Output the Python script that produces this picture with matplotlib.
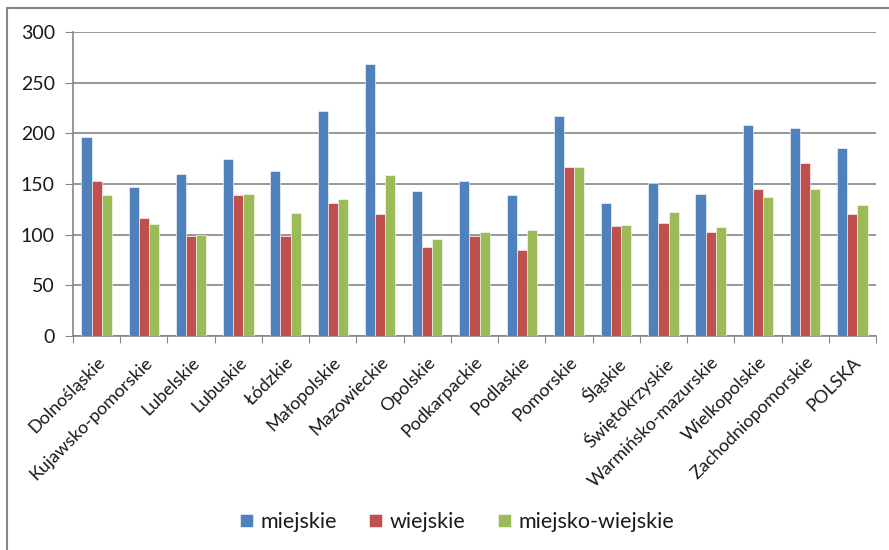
import numpy as np
import matplotlib.pyplot as plt
from matplotlib.patches import Rectangle

plt.rcParams['font.family'] = ['Lato', 'DejaVu Sans']

# Województwa
regions = ['Dolnośląskie', 'Kujawsko-pomorskie', 'Lubelskie', 'Lubuskie', 'Łódzkie',
           'Małopolskie', 'Mazowieckie', 'Opolskie', 'Podkarpackie', 'Podlaskie',
           'Pomorskie', 'Śląskie', 'Świętokrzyskie', 'Warmińsko-mazurskie',
           'Wielkopolskie', 'Zachodniopomorskie', 'POLSKA']

miejskie = [196.5, 147, 160, 174.5, 162.5, 222.5, 268, 143, 153, 139.5,
            217, 131.5, 150.5, 140.5, 208, 205, 186]
wiejskie = [152.5, 116.5, 99, 139, 98.5, 131, 120.5, 88, 98.5, 84.5,
            166.5, 109, 112, 102.5, 145, 170.5, 120.5]
miejsko_wiejskie = [139, 111, 99.5, 140.5, 121.5, 135.5, 158.5, 95.5, 102.5, 105,
                    167, 110, 122.5, 108, 137, 145.5, 129]

series = [('miejskie', miejskie, '#4F81BD'),
          ('wiejskie', wiejskie, '#C0504D'),
          ('miejsko-wiejskie', miejsko_wiejskie, '#9BBB59')]

fig = plt.figure(figsize=(8.89, 5.50), dpi=100)
ax = fig.add_axes([73 / 889, 1 - 336 / 550, (876 - 73) / 889, (336 - 32) / 550])

x = np.arange(len(regions))
w = 0.215
for i, (name, vals, col) in enumerate(series):
    ax.bar(x + (i - 1) * w, vals, width=w, color=col, label=name,
           edgecolor='white', linewidth=0.4, zorder=3)

ax.set_xlim(-0.5, len(regions) - 0.5)
ax.set_ylim(0, 300)
ax.set_yticks(range(0, 301, 50))
ax.yaxis.grid(True, color='#868686', linewidth=1.2, zorder=0)
ax.tick_params(axis='y', length=6, color='#868686', labelsize=14, pad=7,
               labelcolor='#1a1a1a')

# category boundary ticks below the axis
ax.set_xticks(np.arange(-0.5, len(regions), 1))
ax.set_xticklabels([])
ax.tick_params(axis='x', length=5, color='#868686')
for xi, lab in zip(x, regions):
    ax.annotate(lab, xy=(xi, 0), xycoords=('data', 'axes fraction'),
                xytext=(0, -13), textcoords='offset points',
                rotation=45, ha='right', va='top', rotation_mode='anchor',
                fontsize=13, color='#1a1a1a')

for s in ['top', 'right']:
    ax.spines[s].set_visible(False)
for s in ['left', 'bottom']:
    ax.spines[s].set_color('#868686')
    ax.spines[s].set_linewidth(1.2)

fig.legend(loc='center', bbox_to_anchor=(457 / 889, 1 - 522 / 550), ncol=3,
           frameon=False, fontsize=15.5, handlelength=0.6, handleheight=0.6,
           handletextpad=0.35, columnspacing=1.5, labelcolor='#1a1a1a')

# outer chart border (partially cropped)
fig.patches.append(Rectangle((7 / 889, -0.1), 1.2, 1.1 - 8.5 / 550,
                             transform=fig.transFigure, fill=False,
                             edgecolor='#868686', linewidth=1.5))

fig.savefig('out.png', dpi=100)
